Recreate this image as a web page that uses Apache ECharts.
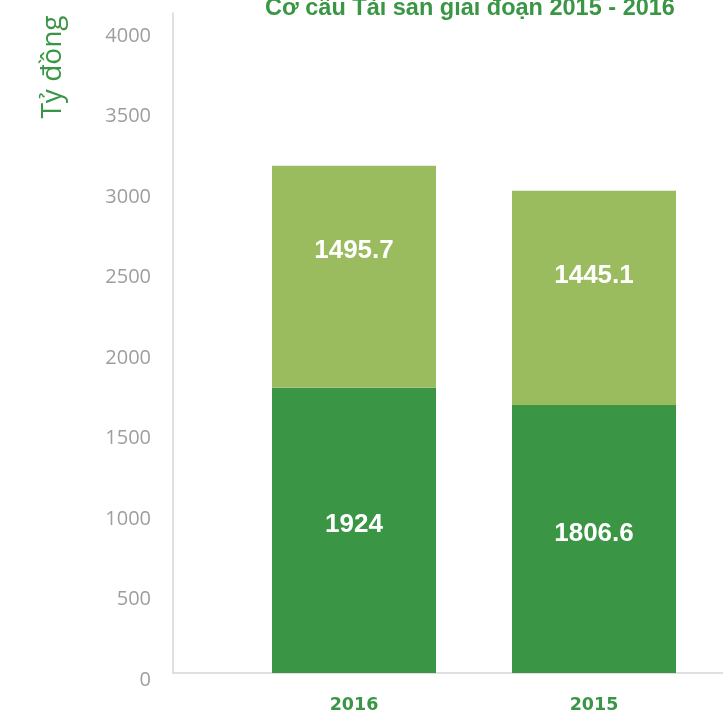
<!DOCTYPE html>
<html>
<head>
<meta charset="utf-8">
<script src="https://cdn.jsdelivr.net/npm/echarts@6/dist/echarts.min.js"></script>
<style>
  html, body { margin: 0; padding: 0; background: #fff; }
  #chart { width: 723px; height: 715px; }
</style>
</head>
<body>
<div id="chart"></div>
<script>
var years = ['2016', '2015'];
var nganHan = [1924, 1806.6];      // phan duoi, xanh dam
var daiHan = [1495.7, 1445.1];     // phan tren, xanh nhat
var yTicks = [0, 500, 1000, 1500, 2000, 2500, 3000, 3500, 4000];

var darkGreen = '#3a9645';
var lightGreen = '#9bbb5f';

var myChart = echarts.init(document.getElementById('chart'));

option = {
	backgroundColor: '#fff',
	animation: false,
	title: {
		text: 'Cơ cấu Tài sản giai đoạn 2015 - 2016',
		left: 465,
		textAlign: 'center',
		top: -8,
		textStyle: {
			color: darkGreen,
			fontSize: 23.5,
			fontWeight: 'bold',
			fontFamily: 'Liberation Sans'
		}
	},
	graphic: [{
		type: 'text',
		x: 53,
		y: 67,
		rotation: Math.PI / 2,
		style: {
			text: 'Tỷ đồng',
			fill: darkGreen,
			font: '28px "Open Sans"',
			textAlign: 'center',
			textVerticalAlign: 'middle'
		}
	}],
	grid: [
		{ left: 173, right: 0, top: 13, bottom: 42, outerBoundsMode: 'none' },
		{ left: 234, right: 9, top: 13, bottom: 42, outerBoundsMode: 'none' }
	],
	xAxis: [{
		gridIndex: 0,
		type: 'value',
		min: 0,
		max: 1,
		axisLine: { show: true, lineStyle: { color: '#d6d6d6', width: 1.5 } },
		axisTick: { show: false },
		axisLabel: { show: false },
		splitLine: { show: false }
	}, {
		gridIndex: 1,
		type: 'category',
		data: years,
		axisLine: { show: false },
		axisTick: { show: false },
		axisLabel: {
			margin: 23,
			color: darkGreen,
			fontSize: 17.5,
			fontWeight: 'bold',
			fontFamily: 'DejaVu Sans'
		}
	}],
	yAxis: [{
		gridIndex: 0,
		type: 'value',
		min: yTicks[0],
		max: 4100,
		interval: 500,
		axisLine: { show: true, lineStyle: { color: '#d6d6d6', width: 1.5 } },
		axisTick: { show: false },
		splitLine: { show: false },
		axisLabel: {
			showMaxLabel: false,
			margin: 22,
			verticalAlign: 'top',
			lineHeight: 14,
			formatter: function (v) { return String(v); },
			color: '#9e9e9e',
			fontSize: 20,
			fontFamily: 'Open Sans'
		}
	}, {
		gridIndex: 1,
		type: 'value',
		min: 0,
		max: 4450,
		show: false,
		splitLine: { show: false }
	}],
	series: [{
		name: 'Ngắn hạn',
		type: 'bar',
		stack: 'ts',
		xAxisIndex: 1,
		yAxisIndex: 1,
		barWidth: 164,
		data: nganHan,
		itemStyle: { color: darkGreen },
		label: {
			show: true,
			position: 'inside',
			offset: [0, -5],
			color: '#fff',
			fontSize: 26,
			fontWeight: 'bold',
			fontFamily: 'Liberation Sans'
		}
	}, {
		name: 'Dài hạn',
		type: 'bar',
		stack: 'ts',
		xAxisIndex: 1,
		yAxisIndex: 1,
		barWidth: 164,
		data: daiHan,
		itemStyle: { color: lightGreen },
		label: {
			show: true,
			position: 'insideTop',
			distance: 72,
			color: '#fff',
			fontSize: 26,
			fontWeight: 'bold',
			fontFamily: 'Liberation Sans'
		}
	}]
};
myChart.setOption(option);
</script>
</body>
</html>
